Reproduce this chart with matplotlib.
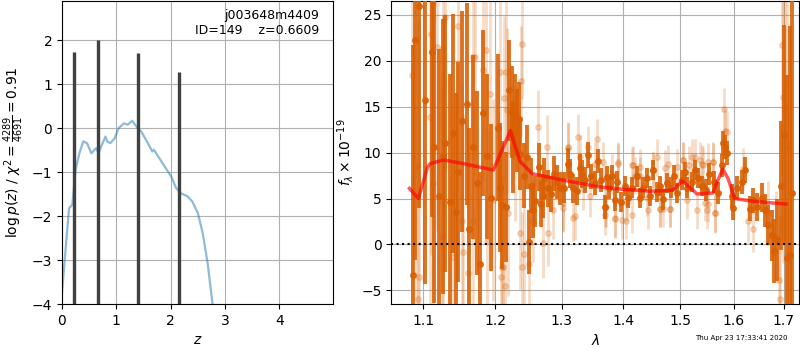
import matplotlib
matplotlib.use('Agg')
import matplotlib.pyplot as plt
import matplotlib.ticker as mticker
import numpy as np

# ---- left panel: p(z)
z_pz = [0.0, 0.06, 0.13, 0.19, 0.25, 0.32, 0.39, 0.46, 0.54, 0.63, 0.67, 0.72,
        0.80, 0.83, 0.89, 0.97, 1.04, 1.14, 1.21, 1.29, 1.36, 1.46, 1.58, 1.66,
        1.69, 1.79, 1.91, 2.01, 2.10, 2.19, 2.31, 2.40, 2.50, 2.59, 2.68, 2.77, 2.83]
log_pz = [-3.75, -2.84, -1.82, -1.74, -0.95, -0.57, -0.30, -0.34, -0.57, -0.45, -0.57, -0.42,
          -0.19, -0.30, -0.34, -0.23, 0.0, 0.11, 0.08, 0.17, 0.05, -0.08, -0.34, -0.53,
          -0.49, -0.68, -0.91, -1.10, -1.36, -1.48, -1.55, -1.67, -1.93, -2.39, -3.07, -4.0, -4.66]
z_peaks = [0.22, 0.66, 1.40, 2.16]
log_pz_peaks = [1.73, 2.0, 1.72, 1.28]

# ---- right panel: spectrum (combined)
wave = [1.0868, 1.0894, 1.0947, 1.1027, 1.1120, 1.1147, 1.1215, 1.1269, 1.1296, 1.1365,
        1.1406, 1.1447, 1.1475, 1.1530, 1.1600, 1.1628, 1.1685, 1.1741, 1.1784, 1.1827,
        1.1884, 1.1942, 1.2043, 1.2072, 1.2101, 1.2160, 1.2203, 1.2248, 1.2263, 1.2292,
        1.2322, 1.2351, 1.2366, 1.2425, 1.2470, 1.2500, 1.2531, 1.2561, 1.2591, 1.2652,
        1.2683, 1.2713, 1.2729, 1.2790, 1.2837, 1.2883, 1.2930, 1.2977, 1.3040, 1.3103,
        1.3135, 1.3182, 1.3246, 1.3294, 1.3326, 1.3374, 1.3423, 1.3471, 1.3536, 1.3585,
        1.3634, 1.3700, 1.3733, 1.3766, 1.3816, 1.3866, 1.3899, 1.3966, 1.4034, 1.4085,
        1.4153, 1.4239, 1.4290, 1.4342, 1.4412, 1.4464, 1.4516, 1.4587, 1.4640, 1.4693,
        1.4764, 1.4835, 1.4889, 1.4943, 1.5034, 1.5088, 1.5125, 1.5216, 1.5271, 1.5327,
        1.5401, 1.5475, 1.5531, 1.5625, 1.5700, 1.5776, 1.5795, 1.5833, 1.5872, 1.5967,
        1.5987, 1.6064, 1.6162, 1.6220, 1.6319, 1.6378, 1.6457, 1.6557, 1.6617, 1.6678,
        1.6759, 1.6799, 1.6860, 1.6942, 1.7004, 1.7066, 1.7128, 1.7169]
flux = [-3.3, 22.3, 26.0, 15.7, 21.0, 10.6, 5.3, 9.6, 11.0, 4.6,
        12.1, 3.5, 7.9, 13.4, 15.3, 1.7, 10.6, 6.7, -2.1, 14.3,
        9.6, 5.1, 12.7, 6.2, 4.3, 4.1, 16.8, 14.4, 10.6, 14.1,
        12.4, 13.7, 9.9, 7.5, 9.5, 0.3, 6.4, 3.7, 4.7, 8.4,
        4.4, 5.3, 7.2, 6.1, 5.5, 7.7, 6.8, 6.1, 6.2, 8.8,
        7.7, 6.1, 5.8, 8.3, 7.7, 7.0, 9.7, 7.4, 6.7, 9.1,
        7.0, 4.1, 7.3, 6.2, 7.5, 4.8, 6.8, 4.6, 6.4, 5.1,
        6.2, 7.4, 5.1, 6.2, 7.2, 5.3, 8.1, 5.7, 6.4, 4.9,
        6.7, 6.2, 7.5, 5.6, 7.0, 7.9, 6.2, 6.8, 8.1, 7.2,
        6.4, 5.9, 7.7, 6.8, 5.6, 8.6, 11.0, 10.6, 10.0, 5.3,
        4.0, 6.2, 6.8, 8.1, 3.9, 4.8, 4.1, 5.1, 3.7, 2.1,
        1.0, -0.7, 0.5, 6.4, 11.9, -1.5, -1.2, 5.6]
err = [25.0, 24.0, 22.0, 20.0, 18.0, 17.0, 16.0, 15.0, 14.0, 14.0,
       13.0, 13.0, 12.0, 12.0, 11.0, 11.0, 10.0, 10.0, 10.0, 9.0,
       9.0, 8.0, 8.0, 7.0, 7.0, 6.0, 5.5, 5.0, 5.0, 4.5,
       4.5, 4.0, 4.0, 3.5, 3.5, 3.5, 3.0, 3.0, 2.8, 2.6,
       2.5, 2.4, 2.2, 2.0, 2.0, 1.9, 1.8, 1.8, 1.7, 1.7,
       1.6, 1.6, 1.5, 1.5, 1.5, 1.4, 1.4, 1.4, 1.3, 1.3,
       1.3, 1.3, 1.2, 1.2, 1.2, 1.2, 1.2, 1.1, 1.1, 1.1,
       1.1, 1.1, 1.1, 1.1, 1.1, 1.1, 1.1, 1.1, 1.1, 1.1,
       1.1, 1.1, 1.1, 1.1, 1.1, 1.1, 1.1, 1.1, 1.1, 1.1,
       1.1, 1.2, 1.2, 1.2, 1.2, 1.3, 1.3, 1.3, 1.3, 1.3,
       1.3, 1.3, 1.3, 1.4, 1.4, 1.4, 1.5, 1.6, 1.8, 2.2,
       2.8, 3.5, 4.5, 7.0, 12.0, 20.0, 25.0, 30.0]

# ---- right panel: individual beams (faint)
wave_b = [1.0855, 1.0907, 1.0934, 1.0947, 1.1093, 1.1107, 1.1134, 1.1134, 1.1188, 1.1255,
          1.1269, 1.1269, 1.1296, 1.1406, 1.1475, 1.1530, 1.1544, 1.1614, 1.1685, 1.1685,
          1.1713, 1.1827, 1.1870, 1.1884, 1.1927, 1.1970, 1.2072, 1.2087, 1.2101, 1.2116,
          1.2130, 1.2145, 1.2160, 1.2174, 1.2189, 1.2292, 1.2366, 1.2381, 1.2395, 1.2395,
          1.2425, 1.2500, 1.2561, 1.2637, 1.2713, 1.2775, 1.2790, 1.2868, 1.3024, 1.3103,
          1.3214, 1.3262, 1.3455, 1.3569, 1.3667, 1.3700, 1.3716, 1.3866, 1.3916, 1.4051,
          1.4153, 1.4170, 1.4290, 1.4412, 1.4516, 1.4587, 1.4640, 1.4693, 1.4782, 1.4817,
          1.5052, 1.5125, 1.5161, 1.5271, 1.5364, 1.5419, 1.5457, 1.5512, 1.5606, 1.5644,
          1.5814, 1.5833, 1.5872, 1.6181, 1.6279, 1.6378, 1.6678, 1.6840, 1.6901, 1.6922,
          1.6963, 1.6983, 1.7025, 1.7066,
          1.3024, 1.3103, 1.3182, 1.3294, 1.3345, 1.3423, 1.3536, 1.3700, 1.3816, 1.3866,
          1.3916, 1.3988, 1.4073, 1.4153, 1.4210, 1.4290, 1.4435, 1.4516, 1.4640, 1.4734,
          1.4817, 1.4943, 1.5052, 1.5216, 1.5315, 1.5401, 1.5512, 1.5501, 1.5606, 1.5644]
flux_b = [18.4, 8.5, -5.9, -3.5, 13.9, 22.9, 26.2, 6.7, 21.5, 0.8,
          21.4, -0.3, 24.8, -1.4, 23.8, 2.6, -0.8, -3.1, 20.4, 2.6,
          20.4, 19.0, 21.2, 0.4, 16.4, 4.8, 18.8, -3.5, -2.5, -2.5,
          15.9, -4.5, 18.8, 14.6, 3.4, 9.5, 1.2, 17.8, 21.8, -2.5,
          -1.0, -2.1, 2.6, 12.8, 0.2, 10.6, 1.2, 3.8, 4.5, 10.5,
          3.1, 11.7, 5.3, 11.5, 9.0, 4.1, 4.1, 2.8, 9.0, 2.6,
          3.2, 8.7, 8.4, 5.1, 8.1, 9.5, 3.9, 3.9, 8.8, 3.9,
          9.2, 4.8, 8.7, 9.5, 9.2, 8.6, 4.5, 4.4, 9.0, 3.4,
          14.7, 12.4, 12.2, 8.2, 2.6, 1.7, 3.4, 0.8, -3.9, -5.9,
          21.7, 16.0, 14.8, 10.6,
          4.0, 10.6, 2.9, 9.5, 6.1, 10.6, 8.8, 3.2, 7.7, 2.9,
          8.8, 2.7, 4.5, 8.6, 7.5, 7.5, 3.7, 8.1, 3.9, 8.3,
          3.9, 8.4, 9.2, 9.5, 3.7, 8.8, 9.0, 3.7, 9.0, 3.4]
err_b = [30.0, 30.0, 28.0, 28.0, 24.0, 24.0, 22.0, 22.0, 20.0, 18.0,
         18.0, 18.0, 17.0, 16.0, 15.0, 15.0, 15.0, 14.0, 13.0, 13.0,
         13.0, 12.0, 12.0, 12.0, 11.0, 11.0, 10.0, 10.0, 10.0, 10.0,
         9.0, 9.0, 9.0, 9.0, 9.0, 7.0, 6.0, 6.0, 6.0, 6.0,
         5.5, 5.0, 4.5, 4.0, 3.8, 3.5, 3.5, 3.2, 3.0, 2.8,
         2.6, 2.5, 2.3, 2.2, 2.2, 2.2, 2.2, 2.1, 2.1, 2.0,
         2.0, 2.0, 2.0, 2.0, 2.0, 2.0, 2.0, 2.0, 2.0, 2.0,
         2.0, 2.0, 2.0, 2.0, 2.0, 2.0, 2.0, 2.0, 2.1, 2.1,
         2.3, 2.3, 2.3, 2.3, 2.4, 2.5, 3.5, 5.0, 7.0, 9.0,
         14.0, 18.0, 24.0, 30.0,
         2.6, 2.6, 2.5, 2.4, 2.4, 2.3, 2.3, 2.2, 2.2, 2.1,
         2.1, 2.1, 2.0, 2.0, 2.0, 2.0, 2.0, 2.0, 2.0, 2.0,
         2.0, 2.0, 2.0, 2.0, 2.0, 2.0, 2.0, 2.0, 2.0, 2.0]

# ---- best-fit model
wave_m = [1.0816, 1.0934, 1.1053, 1.1093, 1.1269, 1.1544, 1.1970, 1.2116, 1.2218, 1.2292,
          1.2366, 1.2546, 1.3024, 1.3569, 1.4000, 1.4464, 1.4871, 1.5034, 1.5143, 1.5308,
          1.5606, 1.5700, 1.5795, 1.5891, 1.6025, 1.6260, 1.6577, 1.7045]
flux_m = [6.1, 5.0, 8.4, 8.8, 9.2, 8.8, 8.1, 10.6, 12.4, 10.6,
          9.0, 7.7, 7.0, 6.3, 6.0, 5.8, 5.9, 6.9, 6.4, 5.5,
          5.6, 7.0, 8.2, 7.2, 5.0, 4.8, 4.6, 4.4]

wave_ticks = [1.1, 1.2, 1.3, 1.4, 1.5, 1.6, 1.7]

orange = '#d95f02'

fig = plt.figure(figsize=(8, 3.5), dpi=100)
ax1 = fig.add_axes([0.0775, 0.131, 0.339, 0.866])
ax2 = fig.add_axes([0.489, 0.131, 0.51, 0.866])

# p(z)
ax1.plot(z_pz, log_pz, color='tab:blue', alpha=0.5, lw=1.6)
ax1.vlines(z_peaks, -4.5, log_pz_peaks, color='#404040', lw=2.4)
ax1.set_xlim(0, 4.99)
ax1.set_ylim(-4, 2.89)
ax1.set_xlabel(r'$z$')
ax1.set_ylabel(r'$\log p(z)$ / $\chi^2=\frac{4289}{4691}=0.91$')
ax1.grid()
ax1.text(0.95, 0.975, 'j003648m4409\nID=149    z=0.6609', transform=ax1.transAxes,
         ha='right', va='top', fontsize=9)

# spectrum
ax2.errorbar(wave_b, flux_b, yerr=err_b, fmt='o', color=orange, alpha=0.22,
             ms=4, elinewidth=2, capsize=0, zorder=2)
ax2.errorbar(wave, flux, yerr=err, fmt='o', color=orange, alpha=0.88,
             ms=4, elinewidth=2.8, capsize=0, zorder=3)
ax2.plot(wave_m, flux_m, color='red', alpha=0.65, lw=2.5, zorder=4)
ax2.axhline(0, color='k', ls=':', lw=1.5, zorder=5)

ax2.set_xscale('log')
ax2.set_xlim(1.058, 1.732)
ax2.set_ylim(-6.5, 26.5)
ax2.xaxis.set_major_locator(mticker.FixedLocator(wave_ticks))
ax2.xaxis.set_major_formatter(mticker.FixedFormatter(['%.1f' % w for w in wave_ticks]))
ax2.xaxis.set_minor_locator(mticker.NullLocator())
ax2.set_xlabel(r'$\lambda$')
ax2.set_ylabel(r'$f_\lambda \times 10^{-19}$')
ax2.grid()

fig.text(0.985, 0.025, 'Thu Apr 23 17:33:41 2020', ha='right', va='bottom', fontsize=5)

fig.savefig('out.png', dpi=100)
